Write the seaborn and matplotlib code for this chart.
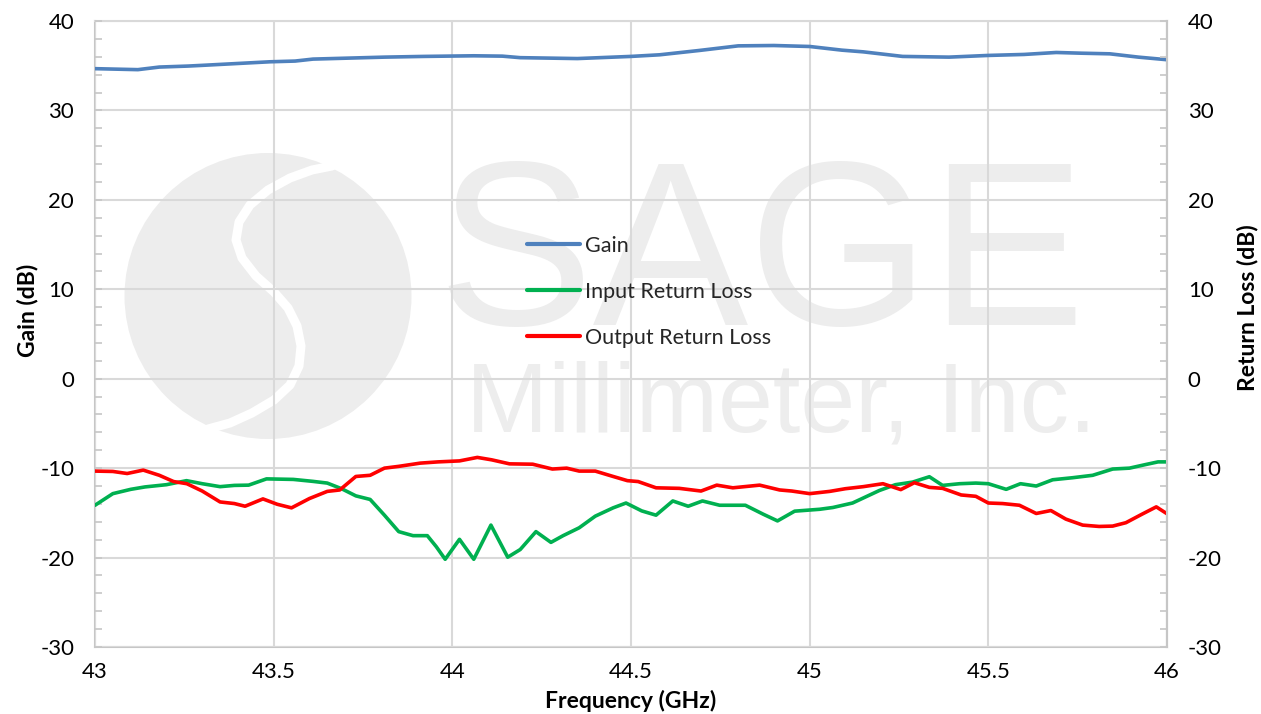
import numpy as np
import pandas as pd
import matplotlib
matplotlib.use("Agg")
import matplotlib.pyplot as plt
from matplotlib.patches import Ellipse
from matplotlib.ticker import MultipleLocator
import seaborn as sns

# ---------------- data ----------------
gain_freq = [43.0, 43.12, 43.18, 43.26, 43.30, 43.49, 43.56, 43.61, 43.81, 43.92,
             44.06, 44.14, 44.19, 44.35, 44.5, 44.58, 44.69, 44.80, 44.90, 45.0,
             45.09, 45.15, 45.26, 45.39, 45.5, 45.60, 45.69, 45.76, 45.84, 45.92, 46.0]
gain_db = [34.67, 34.56, 34.85, 34.96, 35.04, 35.44, 35.52, 35.74, 35.96, 36.04,
           36.11, 36.07, 35.9, 35.8, 36.04, 36.22, 36.70, 37.22, 37.26, 37.15,
           36.74, 36.55, 36.04, 35.96, 36.15, 36.26, 36.48, 36.4, 36.33, 35.96, 35.67]

irl_freq = [43.0, 43.05, 43.10, 43.14, 43.20, 43.256, 43.30, 43.35, 43.39, 43.43,
            43.48, 43.555, 43.61, 43.65, 43.69, 43.73, 43.77, 43.81, 43.85, 43.89,
            43.93, 43.955, 43.98, 44.02, 44.06, 44.108, 44.155, 44.19, 44.234, 44.276,
            44.31, 44.355, 44.40, 44.45, 44.486, 44.53, 44.57, 44.617, 44.66, 44.70,
            44.748, 44.82, 44.87, 44.91, 44.958, 45.028, 45.065, 45.12, 45.195, 45.24,
            45.288, 45.335, 45.372, 45.42, 45.465, 45.50, 45.55, 45.59, 45.634, 45.68,
            45.736, 45.792, 45.848, 45.895, 45.94, 45.975, 46.0]
irl_db = [-14.15, -12.85, -12.37, -12.1, -11.85, -11.4, -11.74, -12.07, -11.93, -11.9,
          -11.2, -11.26, -11.48, -11.67, -12.3, -13.1, -13.5, -15.26, -17.1, -17.55,
          -17.55, -18.78, -20.19, -17.96, -20.19, -16.37, -19.96, -19.1, -17.1, -18.3,
          -17.55, -16.67, -15.37, -14.44, -13.9, -14.78, -15.26, -13.67, -14.26, -13.67,
          -14.15, -14.15, -15.15, -15.9, -14.81, -14.6, -14.4, -13.9, -12.5, -11.85,
          -11.56, -10.96, -11.93, -11.74, -11.67, -11.74, -12.37, -11.74, -12.0, -11.3,
          -11.07, -10.8, -10.1, -10.0, -9.6, -9.3, -9.3]

orl_freq = [43.0, 43.05, 43.09, 43.135, 43.18, 43.22, 43.257, 43.30, 43.35, 43.39,
            43.42, 43.47, 43.51, 43.55, 43.60, 43.65, 43.685, 43.73, 43.77, 43.81,
            43.85, 43.91, 43.96, 44.02, 44.07, 44.11, 44.16, 44.225, 44.28, 44.32,
            44.355, 44.40, 44.45, 44.49, 44.52, 44.57, 44.635, 44.696, 44.74, 44.785,
            44.86, 44.916, 44.95, 45.0, 45.056, 45.10, 45.15, 45.205, 45.255, 45.293,
            45.335, 45.372, 45.424, 45.465, 45.50, 45.54, 45.587, 45.634, 45.675, 45.717,
            45.764, 45.81, 45.848, 45.885, 45.93, 45.97, 46.0]
orl_db = [-10.33, -10.37, -10.6, -10.22, -10.8, -11.5, -11.74, -12.56, -13.78, -13.96,
          -14.26, -13.44, -14.04, -14.44, -13.4, -12.6, -12.44, -10.93, -10.8, -10.0,
          -9.8, -9.44, -9.3, -9.19, -8.8, -9.07, -9.52, -9.56, -10.1, -10.0,
          -10.33, -10.33, -10.93, -11.4, -11.5, -12.2, -12.26, -12.56, -11.9, -12.2,
          -11.9, -12.44, -12.56, -12.85, -12.6, -12.3, -12.07, -11.74, -12.4, -11.63,
          -12.15, -12.26, -13.0, -13.15, -13.9, -13.96, -14.15, -15.07, -14.74, -15.7,
          -16.37, -16.52, -16.48, -16.1, -15.15, -14.33, -15.1]

series_names = ["Gain", "Input Return Loss", "Output Return Loss"]
series_colors = ["#4F81BD", "#00B050", "#FF0000"]
x_ticks = [43, 43.5, 44, 44.5, 45, 45.5, 46]
x_ticklabels = ["43", "43.5", "44", "44.5", "45", "45.5", "46"]
y_ticks = [-30, -20, -10, 0, 10, 20, 30, 40]

# ---------------- style ----------------
sns.set_style("white")
plt.rcParams["font.family"] = ["Lato", "DejaVu Sans"]
plt.rcParams["axes.unicode_minus"] = False

W, H = 1261, 714
fig = plt.figure(figsize=(W / 100, H / 100), dpi=100)
L, R, T, B = 95, 1167, 21, 647
ax = fig.add_axes([L / W, 1 - B / H, (R - L) / W, (B - T) / H])

grid_c = "#d9d9d9"
spine_c = "#c6c6c6"
txt_c = "#000000"
TICK_FS = 16
LEG_FS = 15.5
LAB_FS = 16.5

# ---------------- watermark (behind) ----------------
wm_c = "#ededed"
def fx(px):
    return px / W
def fy(py):
    return 1 - py / H

logo = Ellipse((fx(268), fy(296)), 287 / W, 286 / H, transform=fig.transFigure,
               facecolor=wm_c, edgecolor="none", zorder=0.1)
ax.add_patch(logo)
s_px = [(332, 166), (312, 170), (290, 178), (268, 190), (250, 205), (239, 222),
        (236, 240), (242, 258), (256, 276), (274, 292), (288, 308), (297, 326),
        (301, 346), (299, 366), (290, 385), (274, 400), (252, 413), (230, 423), (208, 429)]
ax.plot([fx(p[0]) for p in s_px], [fy(p[1]) for p in s_px], color="white", lw=6.5,
        solid_capstyle="round", solid_joinstyle="round", transform=fig.transFigure, zorder=0.15)
ax.text(fx(762), fy(325), "SAGE", transform=fig.transFigure, ha="center", va="baseline",
        fontsize=168, color=wm_c, family="Liberation Sans", zorder=0.1)
ax.text(fx(781), fy(432), "Millimeter, Inc.", transform=fig.transFigure, ha="center",
        va="baseline", fontsize=71, color=wm_c, family="Liberation Sans", zorder=0.1)

# ---------------- lines ----------------
df_g = pd.DataFrame({"f": gain_freq, "v": gain_db})
df_i = pd.DataFrame({"f": irl_freq, "v": irl_db})
df_o = pd.DataFrame({"f": orl_freq, "v": orl_db})
for df, name, col in zip([df_g, df_i, df_o], series_names, series_colors):
    sns.lineplot(data=df, x="f", y="v", ax=ax, color=col, lw=2.6, label=name,
                 estimator=None, sort=False, zorder=3, solid_joinstyle="round",
                 solid_capstyle="round")

ax.set_xlim(43, 46)
ax.set_ylim(-30, 40)
ax.set_xticks(x_ticks)
ax.set_xticklabels(x_ticklabels)
ax.set_yticks(y_ticks)
ax.xaxis.set_minor_locator(MultipleLocator(0.1))
ax.yaxis.set_minor_locator(MultipleLocator(2))
ax.grid(True, which="major", color=grid_c, lw=1.5, zorder=0.5)
ax.set_axisbelow(False)
for gl in ax.get_xgridlines() + ax.get_ygridlines():
    gl.set_zorder(0.5)
ax.set_xlabel("")
ax.set_ylabel("")
for sp in ax.spines.values():
    sp.set_color(spine_c)
    sp.set_linewidth(1.5)
ax.spines["top"].set_color(grid_c)
ax.tick_params(axis="both", which="both", direction="in", color=spine_c, width=1.2,
               labelsize=TICK_FS, labelcolor=txt_c)
ax.tick_params(axis="both", which="major", length=5)
ax.tick_params(axis="both", which="minor", length=5)
ax.tick_params(axis="x", which="both", pad=11)
ax.tick_params(axis="y", which="both", pad=15)

ax2 = ax.twinx()
ax2.set_ylim(-30, 40)
ax2.set_yticks(y_ticks)
ax2.yaxis.set_minor_locator(MultipleLocator(2))
for sp in ax2.spines.values():
    sp.set_visible(False)
ax2.spines["right"].set_visible(True)
ax2.spines["right"].set_color(spine_c)
ax2.spines["right"].set_linewidth(1.5)
ax2.tick_params(axis="y", which="both", direction="in", color=spine_c, width=1.2,
                length=5, labelsize=TICK_FS, labelcolor=txt_c, pad=15)
ax2.grid(False)

# legend
leg = ax.legend(loc="upper left", bbox_to_anchor=((527 - L) / (R - L), (B - 236) / (B - T)),
                frameon=False, fontsize=LEG_FS, handlelength=2.45, handletextpad=0.25,
                labelspacing=1.2, borderpad=0, borderaxespad=0)
for h in leg.get_lines():
    h.set_linewidth(3)

# axis labels
fig.text(fx(631), fy(701), "Frequency (GHz)", ha="center", va="center", fontsize=LAB_FS,
         fontweight="bold", color=txt_c)
fig.text(fx(27), fy(310), "Gain (dB)", ha="center", va="center", rotation=90,
         fontsize=LAB_FS, fontweight="bold", color=txt_c)
fig.text(fx(1247), fy(308), "Return Loss (dB)", ha="center", va="center", rotation=90,
         fontsize=LAB_FS, fontweight="bold", color=txt_c)

fig.savefig("out.png", dpi=100)
